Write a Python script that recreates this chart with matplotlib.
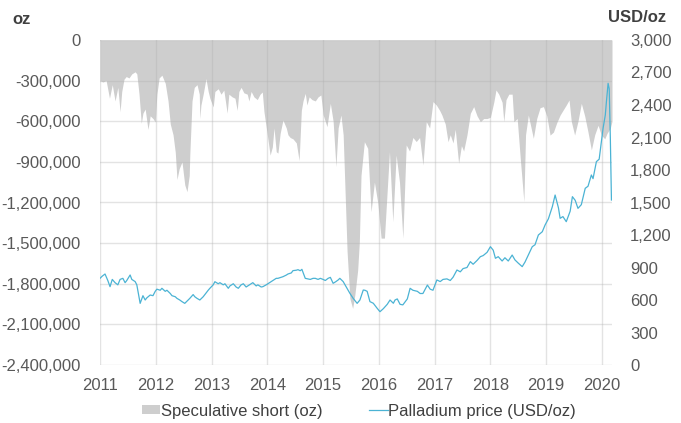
import matplotlib
matplotlib.use("Agg")
import matplotlib.pyplot as plt
from matplotlib.ticker import FuncFormatter

plt.rcParams["font.family"] = ["Liberation Sans", "DejaVu Sans"]

# speculative short position (thousand oz), time as decimal year
short_year = [
    2011.00, 2011.05, 2011.11, 2011.17, 2011.22, 2011.27, 2011.32, 2011.36, 2011.39, 2011.43,
    2011.47, 2011.52, 2011.57, 2011.63, 2011.66, 2011.70, 2011.74, 2011.77, 2011.81, 2011.86,
    2011.90, 2011.95, 2011.99, 2012.02, 2012.06, 2012.11, 2012.17, 2012.22, 2012.26, 2012.31,
    2012.35, 2012.38, 2012.42, 2012.47, 2012.52, 2012.56, 2012.60, 2012.61, 2012.65, 2012.69,
    2012.74, 2012.78, 2012.79, 2012.81, 2012.85, 2012.90, 2012.94, 2012.97, 2013.03, 2013.06,
    2013.12, 2013.17, 2013.22, 2013.28, 2013.31, 2013.37, 2013.42, 2013.46, 2013.49, 2013.53,
    2013.58, 2013.64, 2013.67, 2013.71, 2013.76, 2013.82, 2013.87, 2013.91, 2013.94, 2014.00,
    2014.05, 2014.09, 2014.12, 2014.16, 2014.19, 2014.23, 2014.28, 2014.34, 2014.37, 2014.41,
    2014.46, 2014.52, 2014.57, 2014.61, 2014.64, 2014.68, 2014.71, 2014.75, 2014.80, 2014.86,
    2014.91, 2014.96, 2015.00, 2015.04, 2015.07, 2015.13, 2015.18, 2015.23, 2015.27, 2015.32,
    2015.36, 2015.43, 2015.48, 2015.53, 2015.57, 2015.62, 2015.65, 2015.68, 2015.74, 2015.80,
    2015.86, 2015.92, 2015.98, 2016.04, 2016.10, 2016.13, 2016.19, 2016.25, 2016.31, 2016.37,
    2016.43, 2016.49, 2016.55, 2016.61, 2016.67, 2016.73, 2016.79, 2016.85, 2016.91, 2016.97,
    2017.03, 2017.09, 2017.13, 2017.19, 2017.24, 2017.28, 2017.33, 2017.37, 2017.43, 2017.48,
    2017.52, 2017.58, 2017.64, 2017.70, 2017.76, 2017.82, 2017.88, 2017.94, 2018.00, 2018.06,
    2018.10, 2018.15, 2018.21, 2018.24, 2018.28, 2018.33, 2018.39, 2018.42, 2018.48, 2018.54,
    2018.60, 2018.63, 2018.68, 2018.73, 2018.77, 2018.83, 2018.89, 2018.95, 2019.01, 2019.07,
    2019.13, 2019.19, 2019.25, 2019.30, 2019.36, 2019.41, 2019.45, 2019.51, 2019.57, 2019.63,
    2019.69, 2019.75, 2019.81, 2019.87, 2019.93, 2019.99, 2020.05, 2020.09, 2020.15, 2020.18,
]
short_koz = [
    -300, -310, -300, -430, -330, -450, -350, -530, -380, -290,
    -270, -280, -250, -235, -250, -400, -615, -540, -510, -660,
    -560, -580, -605, -400, -280, -260, -320, -450, -620, -700,
    -830, -1030, -950, -900, -1070, -1120, -1000, -850, -450, -350,
    -330, -400, -580, -480, -400, -285, -380, -430, -495, -380,
    -360, -400, -370, -540, -400, -420, -430, -520, -380, -350,
    -390, -400, -450, -380, -420, -440, -400, -384, -530, -700,
    -850, -790, -650, -825, -835, -690, -591, -650, -700, -720,
    -730, -760, -890, -520, -450, -394, -480, -420, -440, -450,
    -420, -406, -550, -603, -640, -468, -600, -935, -650, -554,
    -700, -1560, -1908, -1982, -1880, -1700, -1490, -1000, -751, -800,
    -1268, -1050, -1200, -1463, -1463, -1250, -825, -1342, -850, -1050,
    -1463, -775, -820, -720, -750, -720, -923, -603, -650, -455,
    -480, -520, -554, -620, -751, -700, -760, -660, -911, -780,
    -820, -700, -541, -492, -560, -603, -580, -580, -570, -460,
    -369, -400, -460, -603, -440, -400, -400, -603, -580, -898,
    -1194, -700, -554, -650, -726, -580, -500, -492, -560, -702,
    -680, -610, -554, -520, -480, -443, -600, -702, -600, -468,
    -560, -680, -812, -700, -630, -702, -730, -690, -650, -600,
]

# palladium price (USD/oz)
price_year = [
    2011.00, 2011.04, 2011.09, 2011.14, 2011.18, 2011.22, 2011.27, 2011.32, 2011.36, 2011.41,
    2011.45, 2011.48, 2011.54, 2011.57, 2011.63, 2011.66, 2011.72, 2011.77, 2011.81, 2011.84,
    2011.90, 2011.95, 2011.99, 2012.02, 2012.08, 2012.11, 2012.17, 2012.20, 2012.26, 2012.29,
    2012.35, 2012.38, 2012.43, 2012.47, 2012.52, 2012.56, 2012.61, 2012.67, 2012.70, 2012.74,
    2012.79, 2012.85, 2012.88, 2012.94, 2012.97, 2013.03, 2013.06, 2013.12, 2013.15, 2013.21,
    2013.24, 2013.30, 2013.33, 2013.39, 2013.44, 2013.48, 2013.53, 2013.57, 2013.62, 2013.65,
    2013.71, 2013.74, 2013.80, 2013.83, 2013.89, 2013.92, 2013.98, 2014.01, 2014.07, 2014.10,
    2014.16, 2014.19, 2014.25, 2014.28, 2014.34, 2014.37, 2014.43, 2014.46, 2014.52, 2014.55,
    2014.59, 2014.62, 2014.68, 2014.73, 2014.77, 2014.82, 2014.86, 2014.91, 2014.95, 2015.00,
    2015.04, 2015.09, 2015.13, 2015.18, 2015.23, 2015.27, 2015.30, 2015.36, 2015.43, 2015.48,
    2015.54, 2015.61, 2015.66, 2015.72, 2015.75, 2015.79, 2015.84, 2015.90, 2015.97, 2016.02,
    2016.08, 2016.15, 2016.20, 2016.26, 2016.29, 2016.33, 2016.38, 2016.43, 2016.51, 2016.56,
    2016.61, 2016.69, 2016.74, 2016.79, 2016.87, 2016.92, 2016.97, 2017.04, 2017.10, 2017.15,
    2017.22, 2017.28, 2017.33, 2017.40, 2017.46, 2017.51, 2017.58, 2017.64, 2017.69, 2017.76,
    2017.82, 2017.87, 2017.94, 2018.00, 2018.05, 2018.09, 2018.14, 2018.21, 2018.26, 2018.32,
    2018.39, 2018.44, 2018.50, 2018.57, 2018.62, 2018.68, 2018.75, 2018.80, 2018.86, 2018.93,
    2018.98, 2019.04, 2019.11, 2019.16, 2019.22, 2019.25, 2019.30, 2019.36, 2019.43, 2019.47,
    2019.52, 2019.57, 2019.63, 2019.70, 2019.75, 2019.81, 2019.84, 2019.90, 2019.95, 2019.99,
    2020.02, 2020.06, 2020.08, 2020.11, 2020.13, 2020.15, 2020.17,
]
price_usd = [
    800, 820, 840, 780, 723, 790, 760, 740, 790, 800,
    760, 780, 831, 790, 770, 740, 569, 640, 600, 620,
    646, 640, 680, 700, 690, 708, 680, 690, 660, 640,
    630, 615, 600, 585, 569, 590, 615, 650, 630, 615,
    600, 630, 650, 690, 708, 740, 769, 750, 760, 740,
    750, 708, 730, 750, 720, 708, 740, 750, 720, 730,
    750, 760, 730, 740, 720, 723, 740, 750, 770, 780,
    800, 800, 810, 815, 830, 840, 850, 871, 875, 880,
    870, 883, 800, 795, 790, 800, 800, 790, 800, 790,
    780, 800, 809, 754, 770, 785, 800, 770, 708, 662,
    615, 569, 600, 692, 690, 680, 585, 570, 523, 492,
    520, 560, 600, 570, 600, 610, 560, 555, 610, 708,
    690, 680, 660, 660, 738, 700, 690, 785, 770, 790,
    795, 780, 810, 877, 860, 890, 900, 954, 930, 965,
    1000, 1010, 1040, 1092, 1060, 985, 1000, 960, 990, 960,
    1015, 970, 940, 908, 950, 1015, 1092, 1110, 1200, 1230,
    1292, 1350, 1461, 1569, 1450, 1354, 1370, 1323, 1420, 1554,
    1520, 1446, 1480, 1631, 1650, 1754, 1720, 1877, 1900, 2062,
    2185, 2308, 2431, 2600, 2550, 2100, 1523,
]

years = list(range(2011, 2021))

grey_txt = "#595959"
fig = plt.figure(figsize=(6.81, 4.23), dpi=100)
ax = fig.add_axes([100 / 681, 58 / 423, 512 / 681, 325 / 423])
ax2 = ax.twinx()

ax.fill_between(short_year, [v * 1000 for v in short_koz], 0, color="#cecece", lw=0,
                label="Speculative short (oz)")
ax2.plot(price_year, price_usd, color="#4bb3d4", lw=0.9, label="Palladium price (USD/oz)")

ax.set_xlim(2011, 2020.18)
ax.set_ylim(-2400000, 0)
ax.set_yticks(range(-2400000, 1, 300000))
ax.yaxis.set_major_formatter(FuncFormatter(lambda v, p: f"{v:,.0f}"))
ax2.set_ylim(0, 3000)
ax2.set_yticks(range(0, 3001, 300))
ax2.yaxis.set_major_formatter(FuncFormatter(lambda v, p: f"{v:,.0f}"))
ax.set_xticks(years)

ax.set_axisbelow(False)
ax.grid(True, color="#b0b0b0", alpha=0.35, lw=1)
for a in (ax, ax2):
    for s in a.spines.values():
        s.set_visible(False)
ax.tick_params(axis="both", length=0, labelsize=12, colors=grey_txt)
ax.tick_params(axis="y", pad=14)
ax.tick_params(axis="x", pad=9)
ax2.tick_params(axis="y", length=0, labelsize=12, colors=grey_txt, pad=13)

fig.text(12 / 681, 1 - 20 / 423, "oz", fontsize=12, fontweight="bold", color="#404040",
         va="center", ha="left")
fig.text(666 / 681, 1 - 17 / 423, "USD/oz", fontsize=12, fontweight="bold", color="#404040",
         va="center", ha="right")

h1, l1 = ax.get_legend_handles_labels()
h2, l2 = ax2.get_legend_handles_labels()
fig.legend(h1 + h2, l1 + l2, loc="center", bbox_to_anchor=(359 / 681, 1 - 411 / 423), ncol=2,
           frameon=False, fontsize=12, handlelength=1.1, handleheight=0.5, handletextpad=0.05,
           columnspacing=2.8, labelcolor="#404040")

fig.savefig("out.png", dpi=100)
